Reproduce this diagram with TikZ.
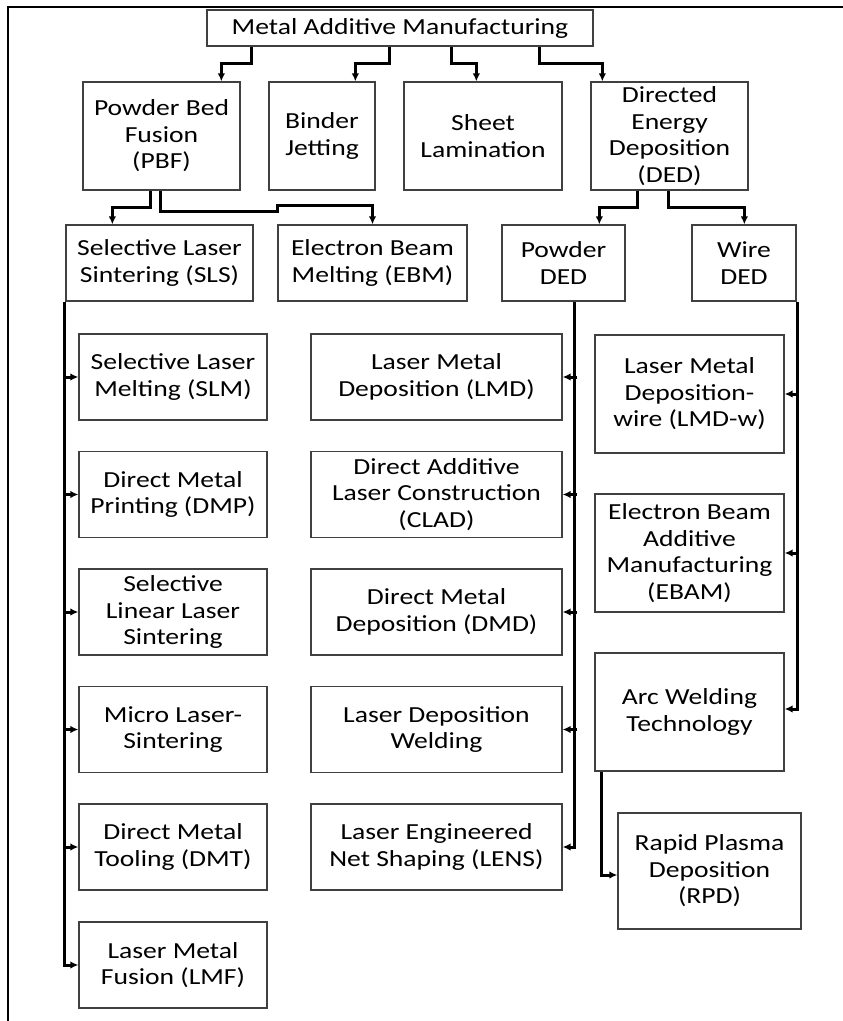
\documentclass[tikz,border=0pt]{standalone}
\usepackage{fontspec}
\setmainfont{Carlito}[FakeStretch=1.2]
\usetikzlibrary{arrows.meta,calc}
\definecolor{boxgray}{HTML}{404040}
\tikzset{
  box/.style={draw=boxgray, line width=1.3pt, align=center, inner sep=0pt,
    font=\fontsize{23}{26.5}\selectfont, text=black},
  conn/.style={line width=3pt, draw=black, -{Latex[length=8pt,width=7.5pt]}},
  trunk/.style={line width=3pt, draw=black},
  frameline/.style={line width=2pt, draw=black}
}
\begin{document}
\begin{tikzpicture}[x=1pt,y=-1pt]
\useasboundingbox (0,0) rectangle (843,1021);
\coordinate (fa) at (8,1021);
\coordinate (fb) at (8,7);
\coordinate (fc) at (843,7);
\draw[frameline] (fa) -- (fb) -- (fc);

% top row
\node[box, minimum width=386, minimum height=36] (mam) at (400,28) {Metal Additive Manufacturing};
\node[box, minimum width=157, minimum height=108] (pbf) at (161.5,136) {Powder Bed\\Fusion\\(PBF)};
\node[box, minimum width=106, minimum height=108] (bj) at (322,136) {Binder\\Jetting};
\node[box, minimum width=158, minimum height=108] (sl) at (483,136) {Sheet\\Lamination};
\node[box, minimum width=157, minimum height=108] (ded) at (669.5,136) {Directed\\Energy\\Deposition\\(DED)};

% second row
\node[box, minimum width=187, minimum height=76] (sls) at (159.5,263) {Selective Laser\\Sintering (SLS)};
\node[box, minimum width=189, minimum height=76] (ebm) at (372.5,263) {Electron Beam\\Melting (EBM)};
\node[box, minimum width=123, minimum height=76] (pded) at (563.5,263) {Powder\\DED};
\node[box, minimum width=104, minimum height=76] (wded) at (744,263) {Wire\\DED};

% left column
\node[box, minimum width=188, minimum height=86] (slm) at (173,377) {Selective Laser\\Melting (SLM)};
\node[box, minimum width=188, minimum height=86] (dmp) at (173,494.5) {Direct Metal\\Printing (DMP)};
\node[box, minimum width=188, minimum height=86] (slls) at (173,612) {Selective\\Linear Laser\\Sintering};
\node[box, minimum width=188, minimum height=86] (mls) at (173,729.5) {Micro Laser-\\Sintering};
\node[box, minimum width=188, minimum height=86] (dmt) at (173,847) {Direct Metal\\Tooling (DMT)};
\node[box, minimum width=188, minimum height=86] (lmf) at (173,965) {Laser Metal\\Fusion (LMF)};

% middle column
\node[box, minimum width=251, minimum height=86] (lmd) at (436.5,377) {Laser Metal\\Deposition (LMD)};
\node[box, minimum width=251, minimum height=86] (clad) at (436.5,494.5) {Direct Additive\\Laser Construction\\(CLAD)};
\node[box, minimum width=251, minimum height=86] (dmd) at (436.5,612) {Direct Metal\\Deposition (DMD)};
\node[box, minimum width=251, minimum height=86] (ldw) at (436.5,729.5) {Laser Deposition\\Welding};
\node[box, minimum width=251, minimum height=86] (lens) at (436.5,847) {Laser Engineered\\Net Shaping (LENS)};

% right column
\node[box, minimum width=189, minimum height=118] (lmdw) at (689.5,394) {Laser Metal\\Deposition-\\wire (LMD-w)};
\node[box, minimum width=189, minimum height=118] (ebam) at (689.5,553) {Electron Beam\\Additive\\Manufacturing\\(EBAM)};
\node[box, minimum width=189, minimum height=118] (arc) at (689.5,712) {Arc Welding\\Technology};
\node[box, minimum width=183, minimum height=116] (rpd) at (709.5,871) {Rapid Plasma\\Deposition\\(RPD)};

% top connectors
\draw[conn] ($(mam.south west)+(45,0)$) -- ++(0,17) -| ($(pbf.north west)+(139,0)$);
\draw[conn] ($(mam.south west)+(183,0)$) -- ++(0,17) -| ($(bj.north west)+(87,0)$);
\draw[conn] ($(mam.south west)+(245,0)$) -- ++(0,17) -| ($(sl.north west)+(73,0)$);
\draw[conn] ($(mam.south west)+(333,0)$) -- ++(0,17) -| ($(ded.north west)+(12,0)$);

% PBF connectors
\draw[conn] ($(pbf.south west)+(68,0)$) -- ++(0,17) -| ($(sls.north west)+(47,0)$);
\draw[conn] ($(pbf.south west)+(78,0)$) -- ++(0,21) -- ++(117,0) -- ++(0,-6) -| (ebm.north);

% DED connectors
\draw[conn] ($(ded.south west)+(47,0)$) -- ++(0,17) -| ($(pded.north west)+(98,0)$);
\draw[conn] ($(ded.south west)+(78,0)$) -- ++(0,17) -| ($(wded.north west)+(53,0)$);

% SLS trunk
\draw[conn] ($(sls.south west)+(-1,0)$) |- (lmf.west);
\foreach \n in {slm,dmp,slls,mls,dmt}{
  \draw[conn] (\n.west) ++(-14,0) -- (\n.west);
}

% Powder DED trunk
\draw[conn] ($(pded.south west)+(73,0)$) |- (lens.east);
\foreach \n in {lmd,clad,dmd,ldw}{
  \draw[conn] (\n.east) ++(14,0) -- (\n.east);
}

% Wire DED trunk
\draw[conn] ($(wded.south east)+(1,0)$) |- ($(arc.east)+(0,-3)$);
\foreach \n in {lmdw,ebam}{
  \draw[conn] (\n.east) ++(14,0) -- (\n.east);
}

% Arc -> RPD
\draw[conn] ($(arc.south west)+(7,0)$) |- ($(rpd.west)+(0,4)$);
\end{tikzpicture}
\end{document}
